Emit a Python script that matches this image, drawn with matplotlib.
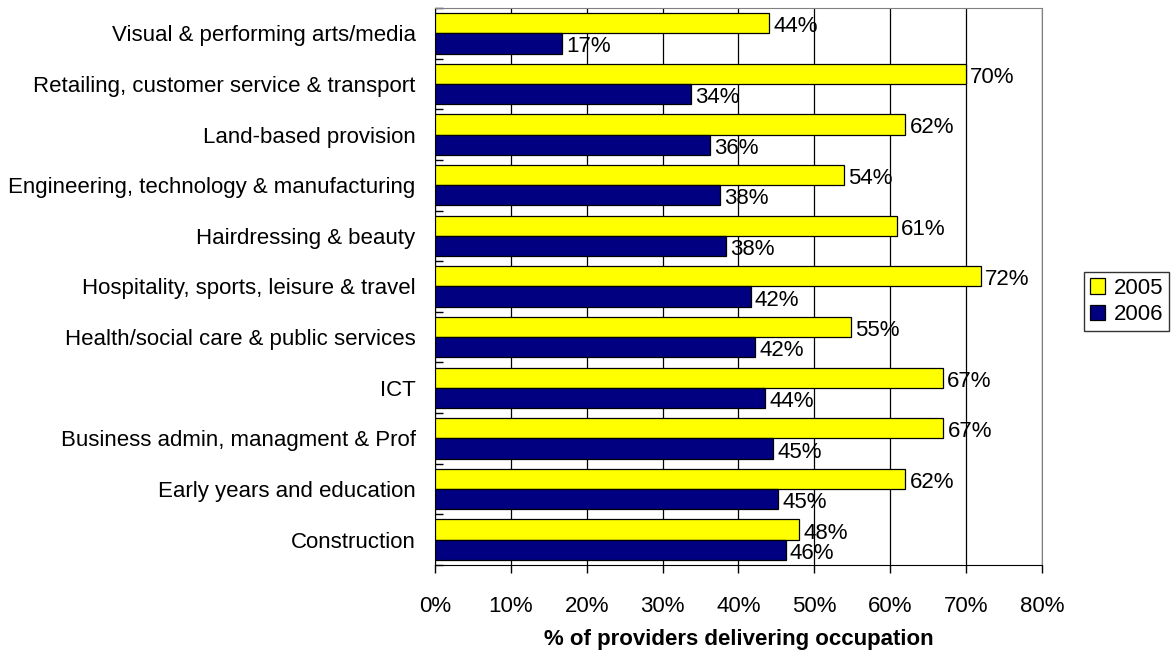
import numpy as np
import matplotlib.pyplot as plt

plt.rcParams['font.family'] = ['Liberation Sans', 'DejaVu Sans']

# occupations, listed bottom to top
occupations = [
    "Construction",
    "Early years and education",
    "Business admin, managment & Prof",
    "ICT",
    "Health/social care & public services",
    "Hospitality, sports, leisure & travel",
    "Hairdressing & beauty",
    "Engineering, technology & manufacturing",
    "Land-based provision",
    "Retailing, customer service & transport",
    "Visual & performing arts/media",
]
pct_2005 = [48.0, 62.0, 67.0, 66.9, 54.8, 71.9, 60.9, 53.9, 62.0, 70.0, 44.0]
pct_2006 = [46.2, 45.2, 44.6, 43.5, 42.2, 41.6, 38.3, 37.6, 36.3, 33.7, 16.8]
xticks = [0, 10, 20, 30, 40, 50, 60, 70, 80]

fs = 16
fig = plt.figure(figsize=(11.71, 6.55), dpi=100)
ax = fig.add_axes([0.3715, 0.1374, 0.5183, 0.8504])

y = np.arange(len(occupations))
h = 0.4
b05 = ax.barh(y + h / 2, pct_2005, height=h, color="#FFFF00",
              edgecolor="black", linewidth=0.9, label="2005", zorder=3)
b06 = ax.barh(y - h / 2, pct_2006, height=h, color="#000080",
              edgecolor="black", linewidth=0.9, label="2006", zorder=3)

# value labels just past the end of each bar
for yy, vals in ((y + h / 2, pct_2005), (y - h / 2, pct_2006)):
    for yi, v in zip(yy, vals):
        ax.annotate(f"{v:.0f}%", (v, yi), xytext=(3, -2.5),
                    textcoords="offset points", va="center", ha="left",
                    fontsize=fs, zorder=4)

ax.set_xlim(0, 80)
ax.set_ylim(-0.5, len(occupations) - 0.5)
ax.set_xticks(xticks)
ax.set_xticklabels([f"{t}%" for t in xticks], fontsize=fs)
ax.tick_params(axis="x", length=6, width=1, pad=16)
ax.set_yticks(y)
ax.set_yticklabels(occupations, fontsize=fs)
ax.tick_params(axis="y", length=0, pad=14)
ax.set_yticks(np.arange(-0.5, len(occupations), 1), minor=True)
ax.tick_params(axis="y", which="minor", direction="in", length=6, width=1)

ax.xaxis.grid(True, color="black", linewidth=0.9, zorder=0)
ax.set_axisbelow(True)
for side in ("top", "right"):
    ax.spines[side].set_color("#808080")
for side in ("left", "bottom"):
    ax.spines[side].set_color("black")

ax.set_xlabel("% of providers delivering occupation", fontsize=fs,
              fontweight="bold", labelpad=9)

fig.legend(handles=[b05, b06], loc="center", bbox_to_anchor=(0.962, 0.54),
           fontsize=fs, frameon=True, fancybox=False, edgecolor="black",
           handlelength=0.7, handleheight=0.7, handletextpad=0.4,
           borderpad=0.25, labelspacing=0.25, borderaxespad=0)

fig.savefig("out.png", dpi=100)
